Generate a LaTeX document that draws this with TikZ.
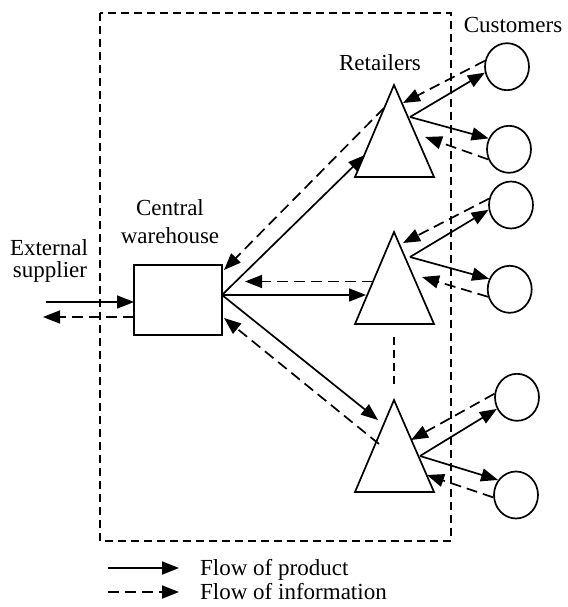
\documentclass[tikz,border=0pt]{standalone}
\usepackage{fontspec}
\setmainfont{Liberation Serif}
\usetikzlibrary{arrows.meta,shapes.geometric}
\begin{document}
\begin{tikzpicture}[x=1pt,y=-1pt,
  every node/.style={font=\fontsize{23}{28}\selectfont},
  flow/.style={line width=1.7pt,-{Triangle[length=17pt,width=13pt]}},
  info/.style={flow,dash pattern=on 11pt off 6pt},
  frame/.style={line width=1.7pt,dash pattern=on 8pt off 5pt},
  cust/.style={draw,line width=1.7pt,ellipse,minimum width=44pt,minimum height=47pt,inner sep=0pt},
  tri/.style={line width=1.7pt,line join=miter},
  lbl/.style={anchor=base,inner sep=0pt}]
\useasboundingbox (0,0) rectangle (567,607);
% system boundary
\draw[frame] (100,13) rectangle (451,541);
% warehouse
\node[draw,line width=1.7pt,minimum width=88pt,minimum height=70pt,inner sep=0pt] (wh) at (178,300) {};
% triangles (retailers)
\draw[tri] (394,85) coordinate (t1) -- (434,177) -- (355,177) -- cycle;
\draw[tri] (394,232) coordinate (t2) -- (434,324) -- (355,324) -- cycle;
\draw[tri] (394,400) coordinate (t3) -- (434,492) -- (355,492) -- cycle;
\coordinate (dotA) at (394,337);
\coordinate (dotB) at (394,387);
\draw[frame] (dotA) -- (dotB);
% customers
\node[cust] (c1) at (507,66.7) {};
\node[cust] (c2) at (509,149.3) {};
\node[cust] (c3) at (511,205) {};
\node[cust] (c4) at (509.7,289.3) {};
\node[cust] (c5) at (517,397.3) {};
\node[cust] (c6) at (516,495) {};
% labels
\node[lbl] (lcust) at (513,33) {Customers};
\node[lbl] (lret) at (380,71) {Retailers};
\node[lbl] (lcen1) at (170,215) {Central};
\node[lbl] (lcen2) at (170,243) {warehouse};
\node[lbl] (lext1) at (49,255) {External};
\node[lbl] (lext2) at (50,277) {supplier};
% supplier flows
\coordinate (supin) at (46,302);
\coordinate (whin) at (134,302);
\coordinate (whout2) at (134,317);
\coordinate (supout) at (43,317);
\draw[flow] (supin) -- (whin);
\draw[info] (whout2) -- (supout);
% warehouse to retailers
\coordinate (wo) at (222,295);
\coordinate (r1in) at (365,155);
\coordinate (r2in) at (366,295);
\coordinate (r3in) at (378,420);
\draw[flow] (wo) -- (r1in);
\draw[flow] (wo) -- (r2in);
\draw[flow] (wo) -- (r3in);
\coordinate (r1out) at (384,108);
\coordinate (w1) at (224,270);
\coordinate (r2out) at (373,281.5);
\coordinate (w2) at (245,281.5);
\coordinate (r3out) at (379,444);
\coordinate (w3) at (224,318);
\draw[info] (r1out) -- (w1);
\draw[info] (r2out) -- (w2);
\draw[info] (r3out) -- (w3);
% retailer 1 <-> customers
\coordinate (p1) at (410,117);
\draw[flow] (p1) -- (c1.195);
\draw[flow] (p1) -- (c2.152);
\coordinate (q1a) at (403,103);
\coordinate (q1b) at (425,137);
\draw[info] (c1.165) -- (q1a);
\draw[info] (c2.206) -- (q1b);
% retailer 2 <-> customers
\coordinate (p2) at (410,257);
\draw[flow] (p2) -- (c3.192);
\draw[flow] (p2) -- (c4.153);
\coordinate (q2a) at (403,243);
\coordinate (q2b) at (422,277);
\draw[info] (c3.164) -- (q2a);
\draw[info] (c4.199) -- (q2b);
% retailer 3 <-> customers
\coordinate (p3) at (420,456);
\draw[flow] (p3) -- (c5.210);
\draw[flow] (p3) -- (c6.140);
\coordinate (q3a) at (411,440);
\coordinate (q3b) at (427,475);
\draw[info] (c5.171) -- (q3a);
\draw[info] (c6.186) -- (q3b);
% legend
\coordinate (la1) at (108,568);
\coordinate (la2) at (179,568);
\coordinate (lb1) at (108,592);
\coordinate (lb2) at (179,592);
\draw[flow] (la1) -- (la2);
\draw[info] (lb1) -- (lb2);
\node[anchor=base west,inner sep=0pt] (lp) at (200,575) {Flow of product};
\node[anchor=base west,inner sep=0pt] (li) at (200,599) {Flow of information};
\end{tikzpicture}
\end{document}
